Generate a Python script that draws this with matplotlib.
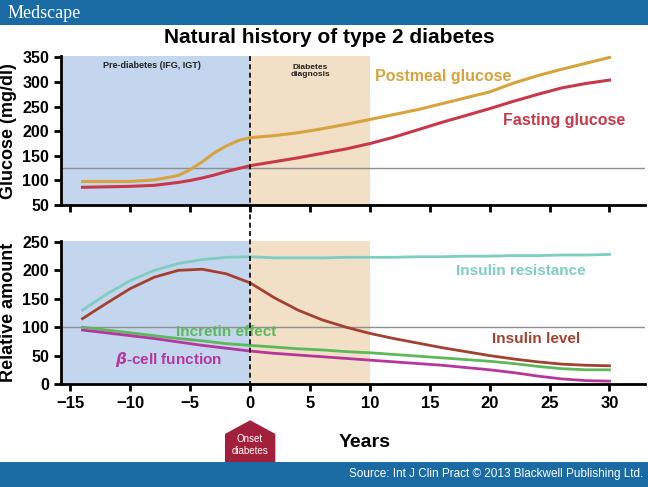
import matplotlib.pyplot as plt
import matplotlib.transforms as mtransforms
from matplotlib.patches import Rectangle, Polygon

plt.rcParams['font.family'] = ['Liberation Sans', 'DejaVu Sans']
plt.rcParams['font.weight'] = 'bold'

# glucose panel (years vs mg/dl)
years_glu = [-14, -12, -10, -8, -6, -5, -4, -3, -2, -1, 0, 2, 4, 6, 8, 10, 12, 14, 16, 18, 20, 22, 24, 26, 28, 30]
postmeal = [98, 98, 98, 101, 110, 122, 138, 156, 170, 181, 187, 191, 197, 205, 214, 224, 234, 244, 256, 268, 280, 298, 313, 326, 338, 350]
fasting = [86, 87, 88, 90, 96, 100, 105, 111, 118, 124, 130, 138, 146, 155, 164, 175, 188, 203, 218, 232, 246, 261, 275, 288, 297, 304]
glu_ref = 126

# relative amount panel
years_rel = [-14, -12, -10, -8, -6, -4, -2, 0, 2, 4, 6, 8, 10, 12, 14, 16, 18, 20, 22, 24, 26, 28, 30]
ins_resist = [130, 158, 182, 200, 212, 219, 223, 224, 222, 222, 222, 223, 223, 223, 224, 224, 225, 225, 226, 226, 227, 227, 228]
ins_level = [115, 142, 168, 188, 200, 202, 194, 178, 152, 130, 113, 100, 89, 80, 72, 64, 57, 50, 44, 39, 35, 33, 32]
incretin = [100, 95, 90, 85, 80, 76, 71, 68, 65, 62, 60, 57, 55, 52, 49, 46, 43, 40, 36, 31, 27, 25, 25]
beta_cell = [95, 90, 85, 80, 74, 68, 63, 58, 54, 51, 48, 45, 42, 39, 36, 33, 29, 25, 20, 14, 9, 6, 5]
rel_ref = 100

onset_year = 0
diag_end = 10
xticks = [-15, -10, -5, 0, 5, 10, 15, 20, 25, 30]
xlabels = ['\u221215', '\u221210', '\u22125', '0', '5', '10', '15', '20', '25', '30']

c_blue = '#c3d6ee'
c_tan = '#f1dfc6'
c_post = '#d6a33d'
c_fast = '#c9384a'
c_resist = '#7fcdc1'
c_level = '#a3402f'
c_incr = '#5cb85a'
c_beta = '#b5379e'
c_head = '#1a6aa3'

fig = plt.figure(figsize=(6.48, 4.87), dpi=100)
ax1 = fig.add_axes([0.094, 0.579, 0.902, 0.305])
ax2 = fig.add_axes([0.094, 0.2115, 0.902, 0.294])
xlim = (-15.8, 33)

for ax in (ax1, ax2):
    ax.set_xlim(*xlim)
    ax.axvspan(xlim[0], onset_year, color=c_blue, lw=0, zorder=0)
    ax.axvspan(onset_year, diag_end, color=c_tan, lw=0, zorder=0)
    for s in ('top', 'right'):
        ax.spines[s].set_visible(False)
    ax.spines['left'].set_linewidth(2)
    ax.spines['bottom'].set_linewidth(2)
    ax.tick_params(width=2, length=5, labelsize=11.5)
    ax.set_xticks(xticks)

# top panel
ax1.set_ylim(50, 352)
ax1.set_yticks([50, 100, 150, 200, 250, 300, 350])
ax1.set_xticklabels([])
ax1.axhline(glu_ref, color='#8f8f8f', lw=1, zorder=1)
ax1.plot(years_glu, postmeal, color=c_post, lw=2.2, zorder=3)
ax1.plot(years_glu, fasting, color=c_fast, lw=2.2, zorder=3)
ax1.set_ylabel('Glucose (mg/dl)', fontsize=13, fontweight='bold', labelpad=4)
ax1.text(-8.2, 342, 'Pre-diabetes (IFG, IGT)', fontsize=6.5, ha='center', va='top', color='#222222')
ax1.text(5, 337, 'Diabetes\ndiagnosis', fontsize=6, ha='center', va='top', color='#222222', linespacing=1.1)
ax1.text(10.4, 311, 'Postmeal glucose', fontsize=11.5, color=c_post, va='center')
ax1.text(21.1, 222, 'Fasting glucose', fontsize=11.5, color=c_fast, va='center')

# bottom panel
ax2.set_ylim(0, 252)
ax2.set_yticks([0, 50, 100, 150, 200, 250])
ax2.set_xticklabels(xlabels, fontsize=12, fontweight='bold')
ax2.axhline(rel_ref, color='#8f8f8f', lw=1, zorder=1)
ax2.plot(years_rel, ins_resist, color=c_resist, lw=2, zorder=3)
ax2.plot(years_rel, ins_level, color=c_level, lw=2, zorder=3)
ax2.plot(years_rel, incretin, color=c_incr, lw=2, zorder=3)
ax2.plot(years_rel, beta_cell, color=c_beta, lw=2, zorder=3)
ax2.set_ylabel('Relative amount', fontsize=13, fontweight='bold', labelpad=4)
ax2.text(17.2, 199, 'Insulin resistance', fontsize=11, color=c_resist, va='center')
ax2.text(20.2, 79, 'Insulin level', fontsize=11, color=c_level, va='center')
ax2.text(-6.2, 92, 'Incretin effect', fontsize=11, color=c_incr, va='center')
ax2.text(-11.3, 44, r'$\beta$-cell function', fontsize=11, color=c_beta, va='center')
ax2.set_xlabel('Years', fontsize=14, fontweight='bold')
ax2.xaxis.set_label_coords(0.52, -0.35)

# dashed onset line through both panels
trans = mtransforms.blended_transform_factory(ax2.transData, fig.transFigure)
fig.add_artist(plt.Line2D([onset_year, onset_year], [0.884, 0.2], transform=trans,
                          color='black', lw=1.2, ls=(0, (3, 2)), zorder=5))

# onset arrow
arrow = Polygon([(-2.1, 0.051), (-2.1, 0.109), (0, 0.137), (2.1, 0.109), (2.1, 0.051)],
                closed=True, transform=trans, facecolor='#a3203a', edgecolor='none')
fig.add_artist(arrow)
fig.text(0.3855, 0.087, 'Onset\ndiabetes', color='white', fontsize=7, ha='center', va='center',
         fontweight='normal', linespacing=1.25)

# header and footer bars
fig.add_artist(Rectangle((0, 0.9487), 1, 0.0513, transform=fig.transFigure, color=c_head, lw=0))
fig.add_artist(Rectangle((0, 0), 1, 0.0513, transform=fig.transFigure, color=c_head, lw=0))
fig.text(0.012, 0.972, 'Medscape', family='Liberation Serif', fontsize=13, color='white',
         fontweight='normal', va='center')
fig.text(0.993, 0.026, 'Source: Int J Clin Pract \u00a9 2013 Blackwell Publishing Ltd.', fontsize=8.5,
         color='white', fontweight='normal', ha='right', va='center')
fig.text(0.508, 0.924, 'Natural history of type 2 diabetes', fontsize=15, ha='center', va='center')

plt.savefig('out.png', dpi=100)
